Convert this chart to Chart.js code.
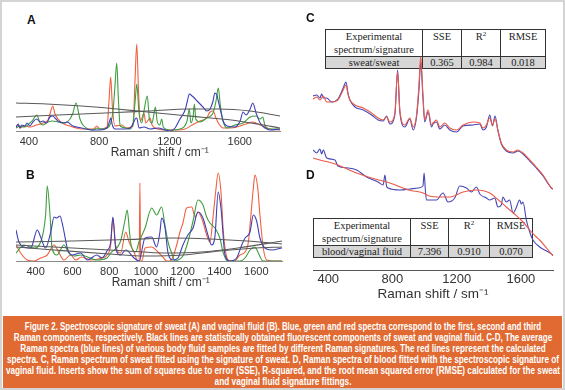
<!DOCTYPE html>
<html><head><meta charset="utf-8">
<script src="https://cdn.jsdelivr.net/npm/chart.js@4.4.1/dist/chart.umd.min.js"></script>
<style>
html,body{margin:0;padding:0;background:#fff;}
#page{position:relative;width:565px;height:390px;overflow:hidden;background:#fff;}
#frame{position:absolute;left:0;top:0;width:565px;height:390px;box-sizing:border-box;border:2px solid #d4d4d4;}
canvas{position:absolute;}
.lbl{position:absolute;font:bold 12px "Liberation Sans",Arial,sans-serif;color:#111;line-height:12px;}
table.fit{position:absolute;border-collapse:collapse;table-layout:fixed;font-family:"Liberation Serif","Times New Roman",serif;font-size:10.5px;color:#222;border:1.5px solid #333;background:#fff;}
table.fit td{border:1px solid #333;text-align:center;padding:0;overflow:hidden;white-space:nowrap;}
table.fit tr.h td{vertical-align:top;line-height:13px;height:26px;}
table.fit tr.d td{background:#d6d6d6;line-height:11px;height:11px;}
#caption{position:absolute;left:3px;top:316px;width:559px;height:72px;background:#e06a32;overflow:hidden;}
.cl{position:absolute;left:0;width:559px;height:11px;}
.cl span{position:absolute;left:50%;top:0;white-space:nowrap;color:#fff;font:bold 10.5px "Liberation Sans Narrow","Liberation Sans",Arial,sans-serif;line-height:11px;transform-origin:50% 50%;}
</style></head>
<body>
<div id="page">
  <div id="frame"></div>
  <table class="fit" id="tc" style="left:325px;top:29px;width:220px;">
    <colgroup><col style="width:97px"><col style="width:39px"><col style="width:39px"><col style="width:45px"></colgroup>
    <tr class="h"><td>Experimental<br>spectrum/signature</td><td>SSE</td><td>R<sup style="font-size:7px;line-height:0">2</sup></td><td>RMSE</td></tr>
    <tr class="d"><td>sweat/sweat</td><td>0.365</td><td>0.984</td><td>0.018</td></tr>
  </table>
  <table class="fit" id="td" style="left:313px;top:218px;width:219px;">
    <colgroup><col style="width:97px"><col style="width:38px"><col style="width:41px"><col style="width:43px"></colgroup>
    <tr class="h"><td>Experimental<br>spectrum/signature</td><td>SSE</td><td>R<sup style="font-size:7px;line-height:0">2</sup></td><td>RMSE</td></tr>
    <tr class="d"><td>blood/vaginal fluid</td><td>7.396</td><td>0.910</td><td>0.070</td></tr>
  </table>
  <canvas id="chartA" width="290" height="130" style="left:0;top:30px;"></canvas>
  <canvas id="chartB" width="290" height="130" style="left:0;top:160px;"></canvas>
  <canvas id="chartCD" width="275" height="282" style="left:290px;top:20px;"></canvas>
  <div class="lbl" style="left:27px;top:14px;">A</div>
  <div class="lbl" style="left:26px;top:169px;">B</div>
  <div class="lbl" style="left:306px;top:12px;">C</div>
  <div class="lbl" style="left:306px;top:169px;">D</div>
  <div id="caption"></div>
</div>
<script>
// ---------------- data (wavenumber cm-1, intensity a.u.) ----------------
const A_TICKS = [400, 800, 1200, 1600];
const B_TICKS = [400, 600, 800, 1000, 1200, 1400, 1600];
const CD_TICKS = [400, 800, 1200, 1600];

const A_BLUE = [[327,4],[340,7],[349,3],[360,6],[377,5],[390,8],[406,5],[423,9],[445,12],[464,9],[481,10],[500,8],[520,14],[536,15],[549,13],[566,10],[600,8],[617,9],[651,5],[700,3],[765,1],[805,1],[845,3],[860,10],[866,13],[875,6],[890,2],[953,2],[976,3],[995,8],[1005,12],[1014,13],[1027,3],[1055,4],[1090,2],[1135,3],[1175,1],[1203,0],[1232,3],[1260,12],[1289,21],[1302,30],[1313,37],[1329,35],[1342,33],[1357,30],[1374,27],[1391,24],[1412,20],[1431,22],[1448,30],[1458,38],[1470,36],[1478,30],[1494,18],[1505,10],[1528,5],[1573,4],[1602,10],[1619,19],[1636,16],[1659,22],[1674,28],[1693,18],[1716,8],[1744,3],[1772,1],[1829,2]];
const A_GREEN = [[327,3],[349,5],[377,4],[406,8],[423,11],[445,16],[464,8],[481,6],[509,9],[536,10],[566,9],[600,8],[634,12],[651,18],[668,28],[691,12],[708,6],[737,2],[765,1],[788,3],[805,2],[845,3],[866,8],[879,20],[890,45],[900,68],[910,30],[920,5],[953,3],[976,2],[993,8],[1005,30],[1014,47],[1027,18],[1042,8],[1055,20],[1074,35],[1086,12],[1101,8],[1110,15],[1120,24],[1130,10],[1145,6],[1156,12],[1165,4],[1203,1],[1260,2],[1300,10],[1313,22],[1322,8],[1335,15],[1342,27],[1350,12],[1374,9],[1412,13],[1448,18],[1465,30],[1478,43],[1490,25],[1505,10],[1528,3],[1573,6],[1619,8],[1659,14],[1693,15],[1716,12],[1731,14],[1744,5],[1772,2],[1829,2]];
const A_RED = [[327,4],[340,6],[349,3],[377,5],[406,4],[445,6],[481,8],[509,11],[522,18],[536,25],[549,17],[566,12],[600,7],[634,5],[668,3],[708,2],[765,2],[788,5],[805,2],[845,4],[856,30],[866,54],[875,25],[890,5],[930,6],[953,3],[993,5],[1004,50],[1014,87],[1024,40],[1035,10],[1042,12],[1055,18],[1065,8],[1090,13],[1101,6],[1135,2],[1175,1],[1232,1],[1289,2],[1329,6],[1374,10],[1412,13],[1431,19],[1448,20],[1465,13],[1478,8],[1505,3],[1545,3],[1602,5],[1636,7],[1674,9],[1716,6],[1772,2],[1829,1]];
const A_FLUO1 = [[327,28],[500,27],[700,25],[900,22],[1074,19],[1250,16],[1400,13.5],[1550,11],[1700,7],[1829,3]];
const A_FLUO2 = [[327,14],[500,15.5],[700,17],[900,18.5],[1074,20],[1313,22],[1478,22],[1659,20],[1829,15]];

const B_BLUE = [[293,31],[309,19],[336,14],[373,13],[409,31],[427,24],[454,13],[482,29],[500,44],[514,43],[532,45],[550,33],[572,13],[597,6],[645,8],[681,1],[733,6],[760,3],[788,10],[808,19],[820,44],[835,13],[862,6],[890,11],[935,3],[962,0],[995,23],[1031,24],[1058,14],[1076,29],[1085,43],[1103,34],[1120,8],[1147,1],[1174,3],[1201,16],[1228,26],[1256,33],[1283,49],[1310,43],[1337,26],[1357,16],[1375,24],[1393,69],[1408,53],[1430,6],[1457,0],[1493,3],[1521,16],[1539,23],[1566,29],[1584,46],[1602,40],[1620,23],[1647,13],[1684,11],[1740,13]];
const B_GREEN = [[293,8],[336,16],[391,13],[427,19],[454,46],[463,75],[478,46],[489,13],[516,6],[554,16],[580,8],[610,5],[645,6],[733,1],[788,3],[808,8],[862,20],[885,40],[898,51],[910,30],[917,18],[944,9],[962,19],[995,33],[1031,53],[1058,46],[1085,54],[1103,36],[1120,19],[1140,8],[1158,0],[1174,1],[1201,5],[1228,19],[1256,40],[1283,61],[1310,56],[1330,44],[1348,38],[1375,33],[1402,23],[1419,9],[1446,0],[1511,0],[1539,3],[1566,11],[1593,14],[1609,9],[1636,0],[1740,0]];
const B_RED = [[293,16],[318,8],[354,1],[391,0],[427,3],[463,6],[500,16],[527,8],[554,1],[590,6],[618,1],[650,4],[700,1],[760,3],[788,6],[808,16],[820,43],[835,16],[862,8],[890,29],[908,19],[935,9],[956,0],[963,0],[967,78],[971,0],[978,0],[995,13],[1031,14],[1065,9],[1092,4],[1113,0],[1130,0],[1147,4],[1167,16],[1185,29],[1201,38],[1221,53],[1249,54],[1267,44],[1283,49],[1310,39],[1330,26],[1348,19],[1366,46],[1379,69],[1393,88],[1408,69],[1421,29],[1439,4],[1457,0],[1480,0],[1511,6],[1539,9],[1557,19],[1571,46],[1584,73],[1593,86],[1608,73],[1620,46],[1638,13],[1657,1],[1700,0],[1740,0]];
const B_FLUO1 = [[293,19],[600,20],[900,21.5],[1150,23],[1350,22],[1550,20],[1740,17]];
const B_FLUO2 = [[293,16],[600,13],[900,10],[1100,8],[1300,9],[1500,13],[1740,20]];
const B_FLUO3 = [[293,14],[500,11],[800,7],[1000,5],[1200,6],[1400,10],[1600,13],[1740,14]];

const C_MEASURED = [[305,174],[328,175],[348,172],[359,176],[369,172],[390,172],[421,168],[460,171],[493,182],[510,188],[524,176],[535,170],[566,163],[618,160],[670,155],[711,150],[742,149],[763,154],[784,146],[815,155],[832,200],[846,158],[877,143],[908,151],[929,140],[950,153],[965,180],[976,208],[990,172],[1001,148],[1022,158],[1043,143],[1053,146],[1074,148],[1095,141],[1126,145],[1157,140],[1199,138],[1240,144],[1302,145],[1344,146],[1364,140],[1385,143],[1406,155],[1423,144],[1439,154],[1457,139],[1478,126],[1509,119],[1551,117],[1582,119],[1613,116],[1655,109],[1696,102],[1738,94],[1790,82],[1800,81]];
const C_FITTED = [[305,171],[328,173],[348,170],[369,174],[390,168],[421,168],[460,170],[493,180],[510,185],[524,175],[535,170],[566,165],[618,162],[670,157],[711,152],[742,150],[763,153],[784,148],[815,157],[832,198],[846,160],[877,145],[908,152],[929,143],[950,155],[965,185],[976,213],[990,175],[1001,150],[1022,160],[1043,145],[1053,147],[1074,150],[1095,143],[1126,147],[1157,142],[1199,140],[1240,145],[1302,148],[1344,147],[1364,142],[1385,145],[1406,152],[1423,145],[1439,151],[1457,140],[1478,127],[1509,120],[1551,118],[1582,120],[1613,117],[1655,110],[1696,103],[1738,95],[1790,82],[1800,81]];
const D_MEASURED = [[305,120],[328,117],[348,121],[359,116],[369,120],[390,112],[442,110],[460,104],[524,102],[577,100],[639,93],[711,88],[742,85],[753,95],[763,84],[773,82],[846,80],[908,81],[960,82],[990,84],[997,97],[1005,80],[1012,70],[1074,70],[1115,77],[1146,68],[1188,72],[1219,84],[1261,82],[1292,78],[1323,83],[1344,76],[1385,72],[1406,70],[1437,72],[1457,63],[1478,65],[1488,73],[1509,68],[1530,70],[1551,57],[1570,62],[1592,70],[1603,66],[1613,68],[1634,50],[1655,38],[1675,30],[1717,23],[1760,19],[1800,15]];
const D_FITTED = [[305,112],[348,110],[400,108],[460,105],[577,97],[670,92],[784,87],[900,80],[991,77],[1030,74],[1100,73],[1160,73],[1240,78],[1323,80],[1406,77],[1460,70],[1509,63],[1560,56],[1613,48],[1655,40],[1696,33],[1717,30],[1760,22],[1800,14]];

const CAPTION_LINES = [
  "Figure 2. Spectroscopic signature of sweat (A) and vaginal fluid (B). Blue, green and red spectra correspond to the first, second and third",
  "Raman components, respectively. Black lines are statistically obtained fluorescent components of sweat and vaginal fluid. C-D, The average",
  "Raman spectra (blue lines) of various body fluid samples are fitted by different Raman signatures. The red lines represent the calculated",
  "spectra. C, Raman spectrum of sweat fitted using the signature of sweat. D, Raman spectra of blood fitted with the spectroscopic signature of",
  "vaginal fluid. Inserts show the sum of squares due to error (SSE), R-squared, and the root mean squared error (RMSE) calculated for the sweat",
  "and vaginal fluid signature fittings."
];
const CAPTION_WIDTHS = [516, 538, 525, 552, 554, 137];

// ---------------- drawing ----------------
const BLUE = '#3f3fb5', GREEN = '#3f9e3f', RED = '#f0603f', GRAY = '#5a5a5a';
const CBLUE = '#4646b6', CRED = '#ea5a48';
const TITLE_SHIFT = '\u00A0'.repeat(7);

function ds(points, color, w) {
  return {data: points.map(p => ({x: p[0], y: p[1]})), borderColor: color, borderWidth: w || 1.1,
          pointRadius: 0, fill: false, cubicInterpolationMode: 'monotone'};
}

function makeChart(id, datasets, o) {
  return new Chart(document.getElementById(id), {
    type: 'line',
    data: {datasets},
    options: {
      responsive: false, animation: false, devicePixelRatio: 1,
      layout: {padding: {left: o.padL, right: o.padR, top: o.padT, bottom: 0}},
      plugins: {legend: {display: false}, tooltip: {enabled: false}},
      scales: {
        x: {
          type: 'linear', min: o.xmin, max: o.xmax,
          afterBuildTicks: s => { s.ticks = o.ticks.map(v => ({value: v})); },
          afterFit: s => { s.height = o.scaleH; },
          grid: {display: false, drawTicks: false},
          border: {display: true, color: o.axisColor, width: 1},
          ticks: {padding: o.tickPad, color: '#333', maxRotation: 0, autoSkip: false,
                  callback: v => String(v),
                  font: {family: '"Liberation Sans", Arial, sans-serif', size: o.tickSize}},
          title: {display: true, text: o.title, color: '#333', padding: {top: 0, bottom: 0},
                  font: {family: '"Liberation Sans", Arial, sans-serif', size: o.titleSize}}
        },
        y: {display: false, min: 0, max: o.ymax}
      }
    }
  });
}

makeChart('chartA', [
  ds(A_FLUO1, GRAY), ds(A_FLUO2, GRAY),
  ds(A_BLUE, BLUE), ds(A_GREEN, GREEN), ds(A_RED, RED)
], {padL: 16, padR: 10, padT: 10, xmin: 327, xmax: 1829, ymax: 91, ticks: A_TICKS, scaleH: 29,
    axisColor: '#8a8a8a', tickPad: 4, tickSize: 11, title: TITLE_SHIFT + 'Raman shift / cm\u207B\u00B9', titleSize: 12});

makeChart('chartB', [
  ds(B_FLUO1, GRAY), ds(B_FLUO2, GRAY), ds(B_FLUO3, GRAY),
  ds(B_BLUE, BLUE), ds(B_GREEN, GREEN), ds(B_RED, RED)
], {padL: 16, padR: 8, padT: 10, xmin: 293, xmax: 1740, ymax: 91, ticks: B_TICKS, scaleH: 29,
    axisColor: '#8a8a8a', tickPad: 4, tickSize: 11, title: TITLE_SHIFT + 'Raman shift / cm\u207B\u00B9', titleSize: 12});

makeChart('chartCD', [
  ds(C_FITTED, CRED), ds(C_MEASURED, CBLUE),
  ds(D_FITTED, CRED), ds(D_MEASURED, CBLUE)
], {padL: 23, padR: 12, padT: 20, xmin: 305, xmax: 1800, ymax: 230, ticks: CD_TICKS, scaleH: 32,
    axisColor: '#555', tickPad: 2, tickSize: 13, title: 'Raman shift / sm\u207B\u00B9', titleSize: 13.5});

// caption
const cap = document.getElementById('caption');
CAPTION_LINES.forEach((t, i) => {
  const d = document.createElement('div');
  d.className = 'cl';
  d.style.top = (5 + i * 11) + 'px';
  const s = document.createElement('span');
  s.textContent = t;
  d.appendChild(s);
  cap.appendChild(d);
});
function fitCaption() {
  const spans = cap.querySelectorAll('span');
  spans.forEach((s, i) => {
    const w = s.offsetWidth;
    if (w > 0) s.style.transform = 'translateX(-50%) scaleX(' + (CAPTION_WIDTHS[i] / w) + ')';
  });
}
fitCaption();
if (document.fonts && document.fonts.ready) document.fonts.ready.then(fitCaption);
</script>
</body></html>
